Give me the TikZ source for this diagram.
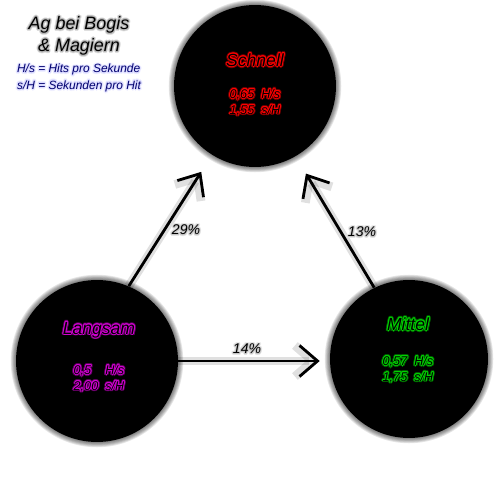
\documentclass[tikz,border=0pt]{standalone}
\usepackage{fontspec}
\setmainfont{Liberation Sans}
\usetikzlibrary{arrows.meta}
\definecolor{legblau}{RGB}{0,0,110}
\definecolor{lila}{RGB}{210,0,210}
\definecolor{gruen}{RGB}{0,210,0}
\colorlet{schatten}{black!28}
\colorlet{legschein}{blue!14}
\colorlet{prozschein}{black!22}
\newlength{\gx}\newlength{\gy}
% Text mit farbigem Schein (aussen schwaecher, innen voll)
\newcommand{\ring}[3]{\foreach \w in {0,30,...,330}{\pgfmathsetlength{\gx}{#1*cos(\w)}\pgfmathsetlength{\gy}{#1*sin(\w)}\rlap{\hspace{\gx}\raisebox{\gy}{\color{#2}#3}}}}
\newcommand{\glow}[3][black]{\leavevmode\ring{1.0pt}{#2!45!#1}{#3}\ring{0.45pt}{#2}{#3}#3}
\newcommand{\werte}[3]{\begin{tabular}{@{}l@{\hspace{4pt}}l@{}}\glow{#1}{#2} & \glow{#1}{H/s}\\ \glow{#1}{#3} & \glow{#1}{s/H}\end{tabular}}
\begin{document}
\begin{tikzpicture}[x=0.02cm,y=-0.02cm,
	kreis/.style = {circle, fill=black, inner sep=0pt},
	kreisname/.style = {font=\itshape\fontsize{10}{12}\selectfont},
	wert/.style = {font=\itshape\fontsize{7.2}{9}\selectfont, inner sep=0pt},
	pfeil/.style = {-{Straight Barb[length=0.36cm,width=0.62cm]}, line width=1.6pt,
		preaction={draw=black, opacity=.12, line width=5pt}},
	proz/.style = {font=\itshape\fontsize{8}{10}\selectfont}]
		\useasboundingbox (0,0) rectangle (500,500);
		%Kreise
		\node[kreis, minimum size=3.24cm] (schnell) at (255,86) {};
		\node[kreis, minimum size=3.24cm] (langsam) at (97,361) {};
		\node[kreis, minimum size=3.16cm] (mittel) at (409,359) {};
		\foreach \n/\r in {schnell/1.62, langsam/1.62, mittel/1.58}
			\foreach \s in {1,...,6}
				\fill[black, opacity=.1] (\n) circle ({\r cm+\s*0.5pt});
		% Texte
		\node[kreisname] (schnelltxt) at (255,60) {\glow{red}{Schnell}};
		\node[wert] (schnellwert) at (255,103) {\werte{red}{0,65}{1,55}};
		\node[kreisname] (langsamtxt) at (99,330) {\glow{lila}{Langsam}};
		\node[wert] (langsamwert) at (99,379) {\werte{lila}{0,5}{2,00}};
		\node[kreisname] (mitteltxt) at (408,324) {\glow{gruen}{Mittel}};
		\node[wert] (mittelwert) at (408,370) {\werte{gruen}{0,57}{1,75}};
		\node[align=center, font=\itshape\fontsize{10.2}{12.5}\selectfont] (titel) at (79,36)
			{\glow[white]{schatten}{Ag bei Bogis}\\ \glow[white]{schatten}{\& Magiern}};
		\node[align=left, text=legblau, font=\itshape\fontsize{6.8}{7.5}\selectfont] (legende) at (79,78)
			{\glow[white]{legschein}{H/s = Hits pro Sekunde}\\ \glow[white]{legschein}{s/H = Sekunden pro Hit}};
		% Pfeile
		\draw[pfeil, shorten >=0.4cm] (langsam.67) -- (schnell.238);
		\draw[pfeil, shorten >=0.4cm] (mittel.116) -- (schnell.300);
		\draw[pfeil, shorten >=0.2cm] (langsam.east) -- (langsam.east -| mittel.west);
		\node[proz] (p29) at (186,230) {\glow[white]{prozschein}{29\%}};
		\node[proz] (p13) at (362,232) {\glow[white]{prozschein}{13\%}};
		\node[proz] (p14) at (247,349) {\glow[white]{prozschein}{14\%}};
\end{tikzpicture}
\end{document}
